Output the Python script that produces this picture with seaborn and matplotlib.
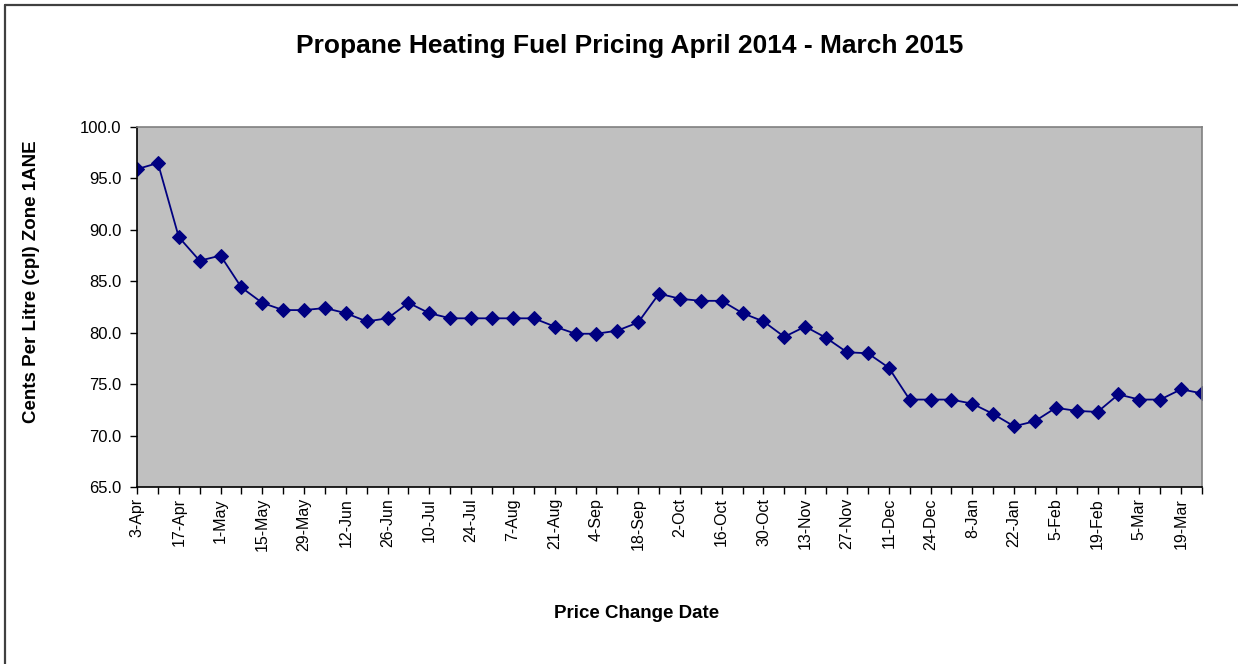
import matplotlib
matplotlib.use("Agg")
import matplotlib.pyplot as plt
import seaborn as sns
import pandas as pd
from matplotlib.lines import Line2D
from matplotlib.ticker import FormatStrFormatter

dates = ["3-Apr", "10-Apr", "17-Apr", "24-Apr", "1-May", "8-May", "15-May", "22-May",
         "29-May", "5-Jun", "12-Jun", "19-Jun", "26-Jun", "3-Jul", "10-Jul", "17-Jul",
         "24-Jul", "31-Jul", "7-Aug", "14-Aug", "21-Aug", "28-Aug", "4-Sep", "11-Sep",
         "18-Sep", "25-Sep", "2-Oct", "9-Oct", "16-Oct", "23-Oct", "30-Oct", "6-Nov",
         "13-Nov", "20-Nov", "27-Nov", "4-Dec", "11-Dec", "18-Dec", "24-Dec", "31-Dec",
         "8-Jan", "15-Jan", "22-Jan", "29-Jan", "5-Feb", "12-Feb", "19-Feb", "26-Feb",
         "5-Mar", "12-Mar", "19-Mar", "26-Mar"]

prices = [95.9, 96.5, 89.3, 87.0, 87.5, 84.4, 82.9, 82.2,
          82.2, 82.4, 81.9, 81.1, 81.4, 82.9, 81.9, 81.4,
          81.4, 81.4, 81.4, 81.4, 80.6, 79.9, 79.9, 80.2,
          81.0, 83.8, 83.3, 83.1, 83.1, 81.9, 81.1, 79.6,
          80.6, 79.5, 78.1, 78.0, 76.6, 73.5, 73.5, 73.5,
          73.1, 72.1, 70.9, 71.4, 72.7, 72.4, 72.3, 74.0,
          73.5, 73.5, 74.5, 74.1]

y_ticks = [65, 70, 75, 80, 85, 90, 95, 100]

title = "Propane Heating Fuel Pricing April 2014 - March 2015"
y_title = "Cents Per Litre (cpl) Zone 1ANE"
x_title = "Price Change Date"

df = pd.DataFrame({"pos": list(range(len(dates))), "date": dates, "price": prices})

sns.set_style("white")
plt.rcParams["font.family"] = ["Liberation Sans", "DejaVu Sans"]
plt.rcParams["text.color"] = "black"
plt.rcParams["axes.labelcolor"] = "black"
plt.rcParams["xtick.color"] = "black"
plt.rcParams["ytick.color"] = "black"

fig = plt.figure(figsize=(12.38, 6.64), dpi=100)
ax = fig.add_axes([137 / 1238, 1 - 487 / 664, (1202 - 137) / 1238, (487 - 127) / 664])
ax.set_facecolor("#C0C0C0")

sns.lineplot(data=df, x="pos", y="price", ax=ax, color="#000080", linewidth=1.3,
             marker="D", markersize=7.5, markeredgecolor="#000080",
             markerfacecolor="#000080")

ax.set_xlim(0, len(dates) - 1)
ax.set_ylim(65, 100)
ax.set_yticks(y_ticks)
ax.yaxis.set_major_formatter(FormatStrFormatter("%.1f"))
ax.set_xticks(range(len(dates)))
ax.set_xticklabels([d if i % 2 == 0 else "" for i, d in enumerate(dates)],
                   rotation=90, fontsize=11.5)
ax.tick_params(axis="y", labelsize=12, length=5, width=1, direction="out",
               left=True, pad=6)
ax.tick_params(axis="x", length=5, width=1, direction="out",
               bottom=True, pad=3)

for s in ["left", "bottom"]:
    ax.spines[s].set_color("black")
    ax.spines[s].set_linewidth(1.2)
for s in ["top", "right"]:
    ax.spines[s].set_color("#808080")
    ax.spines[s].set_linewidth(1.2)

ax.set_xlabel(x_title, fontsize=13.5, fontweight="bold")
ax.xaxis.set_label_coords((637 - 137) / 1065, (487 - 614) / 360)
ax.xaxis.label.set_va("center")
ax.set_ylabel(y_title, fontsize=13.5, fontweight="bold")
ax.yaxis.set_label_coords((32 - 137) / 1065, (487 - 282) / 360)
ax.yaxis.label.set_va("center")

fig.text(630 / 1238, 1 - 46 / 664, title, fontsize=19, fontweight="bold",
         ha="center", va="center")

# chart-area frame (top and left edges visible)
fig.add_artist(Line2D([5 / 1238, 1.0], [1 - 5 / 664, 1 - 5 / 664],
                      transform=fig.transFigure, color="#404040", linewidth=1.6))
fig.add_artist(Line2D([5 / 1238, 5 / 1238], [0.0, 1 - 5 / 664],
                      transform=fig.transFigure, color="#404040", linewidth=1.6))

fig.savefig("out.png", dpi=100)
